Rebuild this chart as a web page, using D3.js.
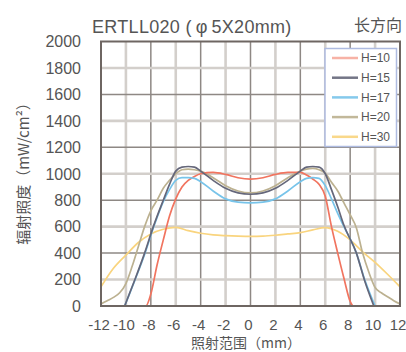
<!DOCTYPE html>
<html>
<head>
<meta charset="utf-8">
<script src="https://cdn.jsdelivr.net/npm/d3@7"></script>
<style>
  body { margin: 0; background: #fff; }
  text { font-family: "Liberation Sans", "Noto Sans CJK SC", sans-serif; fill: #555; }
</style>
</head>
<body>
<div id="chart"></div>
<script>
var svgWidth = 406;
var svgHeight = 352;

// plot area in pixels
var margin = { top: 41.5, right: 6, bottom: 46, left: 101 };
var width = svgWidth - margin.left - margin.right;
var height = svgHeight - margin.top - margin.bottom;

// series: position (mm) / irradiance (mW/cm2)
var seriesNames = ["H=10", "H=15", "H=17", "H=20", "H=30"];
var seriesColors = ["#f1745f", "#65677a", "#78c4ea", "#bcb190", "#f9d47e"];

var h10x = [-12, -8.4, -8, -7.5, -7, -6.5, -6, -5.5, -5, -4.5, -4, -3, -2, -1, 0, 1, 2, 3, 4, 4.5, 5, 5.5, 6, 6.5, 7, 7.5, 8, 8.25, 12];
var h10y = [0, 0, 90, 310, 500, 680, 810, 900, 950, 980, 1000, 1010, 995, 970, 960, 970, 995, 1010, 1010, 990, 960, 920, 830, 600, 400, 210, 35, 0, 0];

var h15x = [-10.1, -9.3, -8.5, -7.8, -7, -6.5, -6, -5.5, -5, -4.5, -4, -3, -2, -1, 0, 1, 2, 3, 4, 4.5, 5, 5.5, 6, 6.5, 7, 7.5, 8.5, 9.15, 9.9];
var h15y = [0, 195, 400, 600, 800, 920, 1020, 1050, 1055, 1050, 1020, 950, 890, 855, 845, 855, 890, 950, 1020, 1050, 1055, 1050, 1000, 880, 750, 610, 400, 195, 0];

var h17x = [-10.1, -9.3, -8.5, -7.8, -7, -6.5, -6, -5.5, -5, -4.5, -4, -3, -2, -1, 0, 1, 2, 3, 4, 4.5, 5, 5.5, 6, 6.5, 7, 7.5, 8.5, 9.2, 10];
var h17y = [0, 190, 390, 590, 790, 880, 950, 970, 970, 965, 940, 870, 810, 785, 780, 785, 810, 870, 940, 965, 970, 965, 910, 810, 700, 600, 400, 190, 0];

var h20x = [-12, -11.5, -11, -10.5, -10, -9.5, -9, -8.5, -8, -7.5, -7, -6.5, -6, -5.5, -5, -4.5, -4, -3, -2, -1, 0, 1, 2, 3, 4, 4.5, 5, 5.5, 6, 6.5, 7, 7.5, 8, 8.5, 9, 9.5, 10, 10.5, 11, 11.5, 12];
var h20y = [15, 40, 65, 100, 170, 300, 450, 600, 720, 800, 890, 950, 1000, 1030, 1035, 1030, 1020, 970, 910, 870, 855, 870, 910, 970, 1020, 1035, 1040, 1030, 1005, 935, 870, 780, 690, 590, 400, 255, 140, 100, 70, 40, 15];

var h30x = [-12, -11, -10, -9, -8, -7, -6, -5, -4, -3, -2, -1, 0, 1, 2, 3, 4, 5, 6, 7, 8, 9, 10, 11, 12];
var h30y = [145, 285, 385, 480, 545, 580, 595, 570, 550, 538, 532, 528, 526, 528, 535, 545, 555, 575, 593, 565, 500, 410, 330, 240, 145];

var xTicks = [-12, -10, -8, -6, -4, -2, 0, 2, 4, 6, 8, 10, 12];
var yTicks = [0, 200, 400, 600, 800, 1000, 1200, 1400, 1600, 1800, 2000];

var seriesX = [h10x, h15x, h17x, h20x, h30x];
var seriesY = [h10y, h15y, h17y, h20y, h30y];

var svg = d3.select("#chart").append("svg")
  .attr("width", svgWidth)
  .attr("height", svgHeight);

var x = d3.scaleLinear().domain([-12, 12]).range([margin.left, margin.left + width]);
var y = d3.scaleLinear().domain([0, 2000]).range([margin.top + height, margin.top]);

// grid: odd steps light and wide, even steps dark and thin
var grid = svg.append("g");
xTicks.slice(1, -1).forEach(function(t) {
  var odd = Math.abs(t / 2) % 2 === 1;
  grid.append("line")
    .attr("x1", x(t)).attr("x2", x(t))
    .attr("y1", y(0)).attr("y2", y(2000))
    .attr("stroke", odd ? "#d3cfcb" : "#8e8884")
    .attr("stroke-width", odd ? 2.6 : 1.5);
});
yTicks.slice(1, -1).forEach(function(t) {
  var odd = (t / 200) % 2 === 1;
  grid.append("line")
    .attr("x1", x(-12)).attr("x2", x(12))
    .attr("y1", y(t)).attr("y2", y(t))
    .attr("stroke", odd ? "#d3cfcb" : "#8e8884")
    .attr("stroke-width", odd ? 2.6 : 1.5);
});

svg.append("clipPath").attr("id", "clip")
  .append("rect")
  .attr("x", margin.left).attr("y", margin.top)
  .attr("width", width).attr("height", height);

var line = d3.line()
  .x(d => x(d[0]))
  .y(d => y(d[1]))
  .curve(d3.curveMonotoneX);

// draw H=30 first, then the others on top
var order = [4, 3, 0, 2, 1];
order.forEach(function(i) {
  var pts = d3.zip(seriesX[i], seriesY[i]);
  svg.append("path")
    .datum(pts)
    .attr("clip-path", "url(#clip)")
    .attr("fill", "none")
    .attr("stroke", seriesColors[i])
    .attr("stroke-width", 1.7)
    .attr("d", line);
});

// frame
svg.append("rect")
  .attr("x", margin.left).attr("y", margin.top)
  .attr("width", width).attr("height", height)
  .attr("fill", "none")
  .attr("stroke", "#6e6662")
  .attr("stroke-width", 2);

// tick labels
svg.append("g").selectAll("text")
  .data(yTicks)
  .enter()
  .append("text")
  .attr("x", 81)
  .attr("y", d => y(d))
  .attr("dy", "0.36em")
  .attr("text-anchor", "end")
  .style("font-size", "16px")
  .text(d => d);

svg.append("g").selectAll("text")
  .data(xTicks)
  .enter()
  .append("text")
  .attr("x", d => x(d) - 2)
  .attr("y", 330)
  .attr("text-anchor", "middle")
  .style("font-size", "15px")
  .text(d => d < 0 ? "-" + Math.abs(d) : d);

// titles
svg.append("text")
  .attr("x", 92)
  .attr("y", 33)
  .style("font-size", "18px")
  .style("letter-spacing", "0.3px")
  .text("ERTLL020 (\u2009\u03c6\u20095X20mm)");

svg.append("text")
  .attr("x", 402)
  .attr("y", 31)
  .attr("text-anchor", "end")
  .style("font-size", "16px")
  .style("font-family", "Noto Sans CJK SC")
  .text("长方向");

svg.append("text")
  .attr("x", 246)
  .attr("y", 348)
  .attr("text-anchor", "middle")
  .style("font-size", "14px")
  .style("font-family", "Noto Sans CJK SC")
  .text("照射范围（mm）");

svg.append("text")
  .attr("transform", "translate(29, 170) rotate(-90)")
  .attr("text-anchor", "middle")
  .style("font-size", "15px")
  .style("font-family", "Noto Sans CJK SC")
  .text("辐射照度（mW/cm²）");

// legend
var legend = svg.append("g");
legend.append("rect")
  .attr("x", 325).attr("y", 48.5)
  .attr("width", 71.5).attr("height", 98)
  .attr("fill", "#fff")
  .attr("stroke", "#aebbe0")
  .attr("stroke-width", 1.5);

seriesNames.forEach(function(name, i) {
  var ly = 58 + i * 19.7;
  legend.append("line")
    .attr("x1", 332).attr("x2", 358)
    .attr("y1", ly).attr("y2", ly)
    .attr("stroke", seriesColors[i])
    .attr("stroke-width", 2.5)
    .attr("opacity", i === 0 ? 0.55 : 0.9);
  legend.append("text")
    .attr("x", 361)
    .attr("y", ly)
    .attr("dy", "0.36em")
    .style("font-size", "12px")
    .text(name);
});
</script>
</body>
</html>
